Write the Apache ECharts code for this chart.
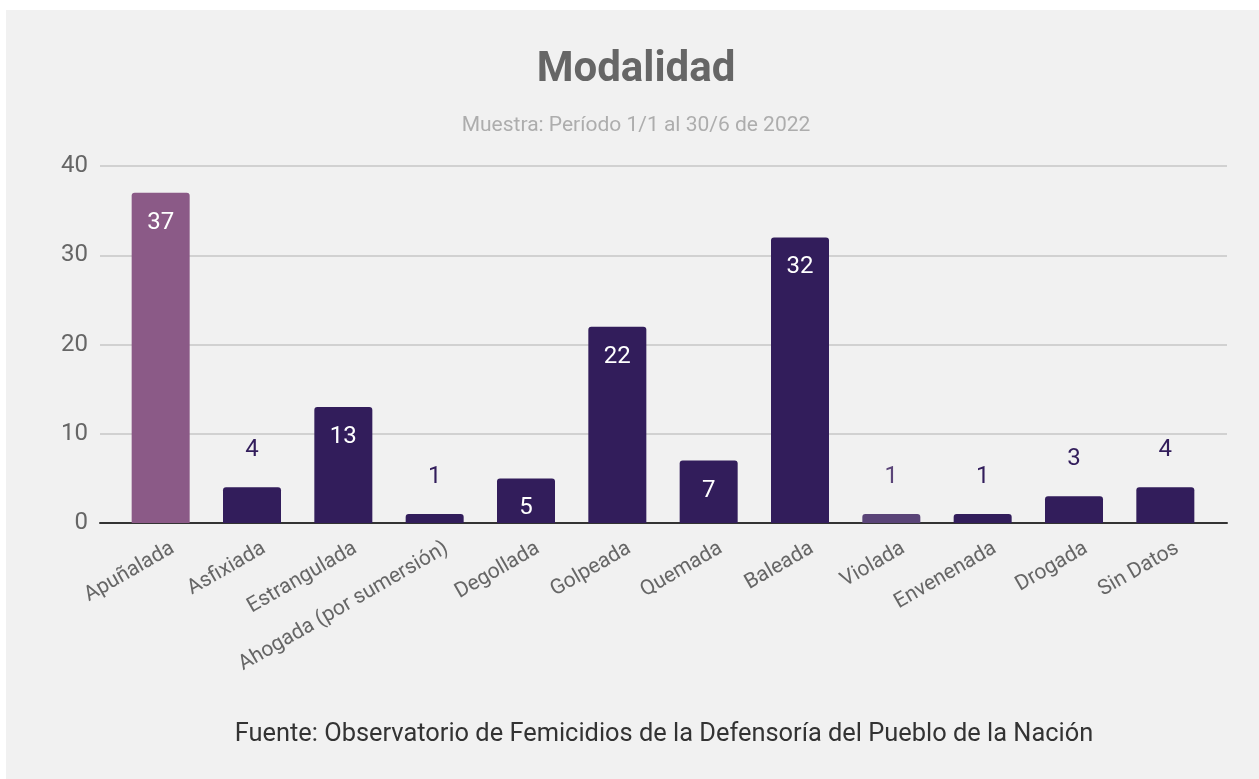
<!DOCTYPE html>
<html>
<head>
<meta charset="utf-8">
<script src="https://cdn.jsdelivr.net/npm/echarts@6/dist/echarts.min.js"></script>
<style>
  html, body { margin: 0; padding: 0; background: #ffffff; }
  #chart {
    position: absolute;
    left: 6px;
    top: 10px;
    width: 1253px;
    height: 769px;
    background: #f1f1f1;
  }
</style>
</head>
<body>
<div id="chart"></div>
<script>
const categories = ['Apuñalada', 'Asfixiada', 'Estrangulada', 'Ahogada (por sumersión)', 'Degollada',
  'Golpeada', 'Quemada', 'Baleada', 'Violada', 'Envenenada', 'Drogada', 'Sin Datos']
const values = [37, 4, 13, 1, 5, 22, 7, 32, 1, 1, 3, 4]
const yTicks = [0, 10, 20, 30, 40]

const titleText = 'Modalidad'
const subtitleText = 'Muestra: Período 1/1 al 30/6 de 2022'
const sourceText = 'Fuente: Observatorio de Femicidios de la Defensoría del Pueblo de la Nación'

const mainColor = '#321d5b'
const specialColors = {'Apuñalada': '#8b5a87', 'Violada': '#5a4478'}

const chart = echarts.init(document.getElementById('chart'))

const barData = categories.map((c, i) => {
  const color = specialColors[c] || mainColor
  const inside = values[i] >= 5
  return {
    value: values[i],
    itemStyle: {color: color},
    label: inside
      ? {position: 'insideTop', distance: 18, color: '#ffffff'}
      : {position: 'top', distance: 25, color: color}
  }
})

// labels sit a little to the right of the bar centre, like the original
const labelShift = 12

chart.setOption({
  backgroundColor: '#f1f1f1',
  textStyle: {fontFamily: 'Roboto'},
  animation: false,
  graphic: [
    {
      type: 'text', x: 630, y: 60,
      style: {text: titleText, font: 'bold 42px Roboto', fill: '#666666',
        textAlign: 'center', textVerticalAlign: 'middle'}
    },
    {
      type: 'text', x: 630, y: 116,
      style: {text: subtitleText, font: '21px Roboto', fill: '#adadad',
        textAlign: 'center', textVerticalAlign: 'middle'}
    },
    {
      type: 'text', x: 658, y: 725,
      style: {text: sourceText, font: '25.4px Roboto', fill: '#333333',
        textAlign: 'center', textVerticalAlign: 'middle'}
    }
  ],
  grid: [
    {left: 94, right: 32, top: 156, bottom: 256},
    {left: 109, right: 48, top: 156, bottom: 256},
    {left: 109 + labelShift, right: 48 - labelShift, top: 156, bottom: 256}
  ],
  xAxis: [
    {
      type: 'value', gridIndex: 0, min: 0, max: 1,
      axisLabel: {show: false}, axisTick: {show: false}, splitLine: {show: false},
      axisLine: {show: true, onZero: false, lineStyle: {color: '#333333', width: 2}}
    },
    {
      type: 'category', gridIndex: 1, data: categories,
      axisLine: {show: false}, axisTick: {show: false}, axisLabel: {show: false}
    },
    {
      type: 'category', gridIndex: 2, data: categories,
      axisLine: {show: false}, axisTick: {show: false},
      axisLabel: {rotate: 30, fontSize: 21, color: '#666666', margin: 24, interval: 0}
    }
  ],
  yAxis: [
    {
      type: 'value', gridIndex: 0, min: 0, max: 40, interval: 10,
      axisLine: {show: false}, axisTick: {show: false},
      axisLabel: {fontSize: 24, color: '#666666', margin: 12,
        formatter: v => yTicks.includes(v) ? String(v) : ''},
      splitLine: {lineStyle: {color: '#c6c6c6', width: 1.5}}
    },
    {
      type: 'value', gridIndex: 1, min: 0, max: 40, interval: 10,
      axisLine: {show: false}, axisTick: {show: false},
      axisLabel: {show: false}, splitLine: {show: false}
    },
    {
      type: 'value', gridIndex: 2, min: 0, max: 40, interval: 10,
      axisLine: {show: false}, axisTick: {show: false},
      axisLabel: {show: false}, splitLine: {show: false}
    }
  ],
  series: [
    {
      type: 'bar', xAxisIndex: 1, yAxisIndex: 1,
      barWidth: 58,
      data: barData,
      itemStyle: {borderRadius: [3, 3, 0, 0]},
      label: {show: true, fontSize: 24, fontFamily: 'Roboto'},
      z: 3
    }
  ]
})
</script>
</body>
</html>
